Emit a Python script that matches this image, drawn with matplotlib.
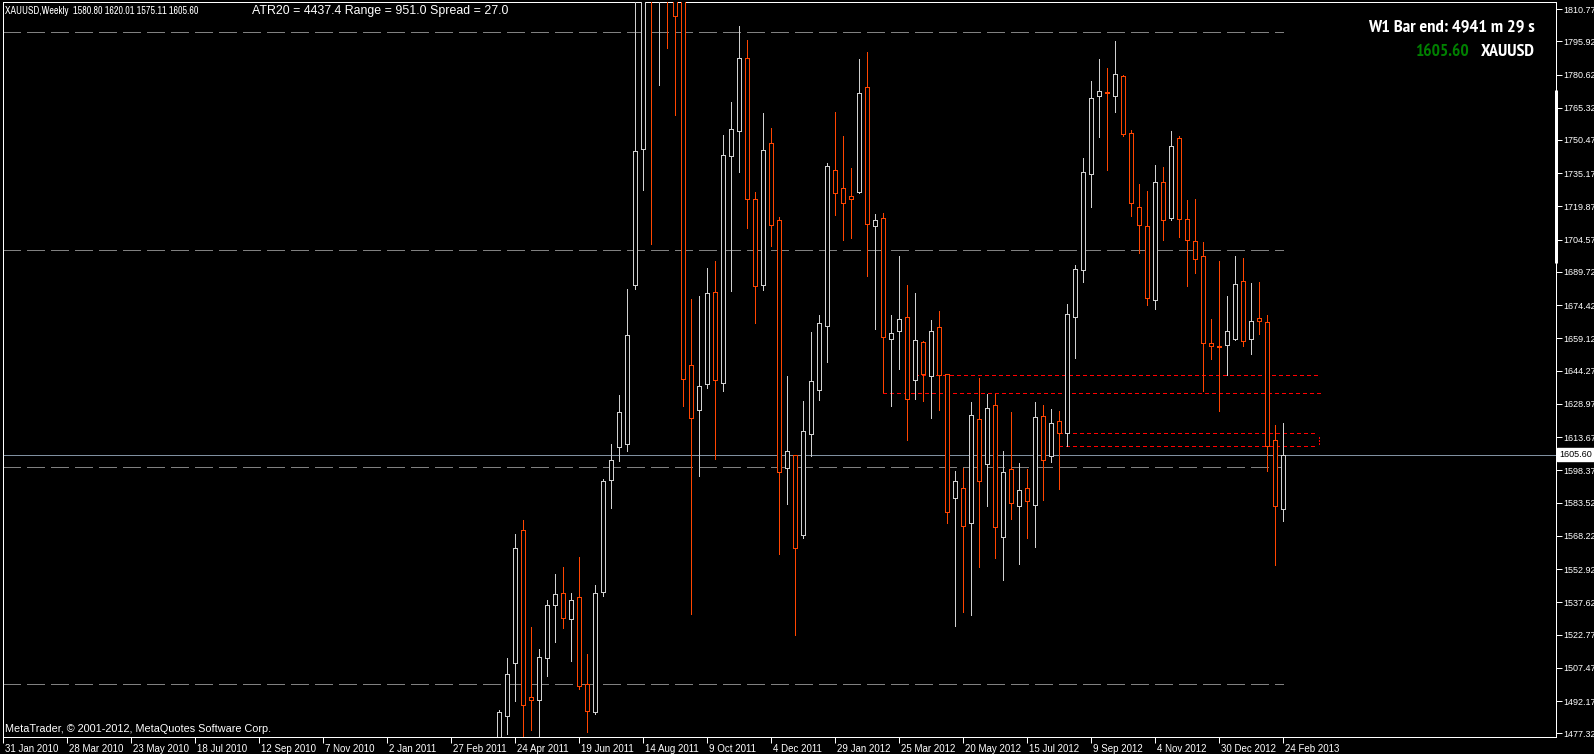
import numpy as np
import matplotlib
matplotlib.use("Agg")
import matplotlib.pyplot as plt
from matplotlib.patches import Rectangle
from matplotlib.collections import LineCollection, PatchCollection
from matplotlib import font_manager
from matplotlib.font_manager import FontProperties
import matplotlib.transforms as mtransforms

# ---------------- data ----------------
first_week = 62  # weeks after 31 Jan 2010 of the first drawn bar (10 Apr 2011)
opens = [1470.0, 1485.2, 1509.6, 1570.7, 1494.1, 1492.6, 1511.9, 1536.5, 1542.0, 1529.8,
         1540.2, 1500.0, 1487.0, 1542.4, 1593.7, 1608.9, 1610.6, 1683.7, 1746.1, 1852.0,
         1827.0, 1876.0, 1856.0, 1816.0, 1646.8, 1626.0, 1637.9, 1680.7, 1638.4, 1743.3,
         1754.4, 1788.1, 1723.5, 1683.7, 1748.9, 1713.5, 1599.3, 1605.4, 1568.8, 1615.3,
         1635.3, 1664.9, 1736.6, 1728.3, 1724.6, 1726.6, 1774.8, 1710.7, 1714.4, 1658.8,
         1662.5, 1669.2, 1640.1, 1657.3, 1641.8, 1664.2, 1642.5, 1585.5, 1590.4, 1574.0,
         1621.9, 1601.1, 1628.4, 1567.6, 1599.1, 1581.8, 1590.4, 1582.2, 1623.4, 1604.8,
         1621.0, 1615.6, 1669.2, 1690.5, 1735.0, 1770.5, 1772.4, 1770.5, 1780.0, 1753.5,
         1719.4, 1710.7, 1676.6, 1731.3, 1714.4, 1751.3, 1714.0, 1703.8, 1697.0, 1656.8,
         1655.5, 1656.0, 1658.8, 1685.7, 1658.8, 1668.3, 1666.8, 1612.4, 1580.80]
highs = [1488.0, 1511.9, 1569.1, 1575.4, 1526.3, 1515.9, 1538.9, 1550.7, 1553.7, 1542.0,
         1558.5, 1513.9, 1545.5, 1594.4, 1610.4, 1633.0, 1682.0, 1818.0, 1877.0, 1912.0,
         1882.0, 1923.0, 1865.0, 1820.0, 1677.2, 1678.7, 1691.7, 1694.8, 1752.6, 1768.1,
         1803.0, 1796.5, 1726.6, 1763.1, 1756.1, 1715.1, 1641.8, 1605.6, 1630.5, 1662.2,
         1670.1, 1739.8, 1763.5, 1752.2, 1737.6, 1787.6, 1791.1, 1716.4, 1716.8, 1670.1,
         1697.0, 1683.8, 1680.1, 1657.9, 1667.5, 1671.8, 1642.9, 1598.0, 1599.3, 1629.9,
         1641.0, 1633.7, 1633.7, 1607.2, 1625.2, 1601.7, 1598.9, 1629.8, 1628.5, 1626.6,
         1625.8, 1675.0, 1692.9, 1742.2, 1777.8, 1787.8, 1783.7, 1796.1, 1780.5, 1755.0,
         1730.3, 1727.0, 1739.0, 1738.1, 1754.6, 1752.2, 1722.9, 1723.3, 1703.5, 1668.1,
         1694.8, 1678.8, 1697.2, 1696.2, 1684.4, 1685.1, 1669.7, 1619.1, 1620.01]
lows = [1459.0, 1477.0, 1492.4, 1462.0, 1478.7, 1474.0, 1503.5, 1519.3, 1525.7, 1510.4,
        1497.8, 1477.8, 1486.1, 1540.6, 1580.9, 1602.6, 1607.1, 1682.0, 1727.4, 1702.6,
        1775.9, 1792.6, 1762.2, 1628.2, 1532.4, 1595.9, 1636.5, 1603.7, 1635.1, 1681.1,
        1735.9, 1710.1, 1666.4, 1681.6, 1701.8, 1559.8, 1583.0, 1522.4, 1567.1, 1605.0,
        1630.7, 1648.4, 1715.9, 1704.6, 1705.3, 1725.9, 1687.7, 1663.3, 1634.5, 1628.0,
        1644.9, 1612.3, 1631.4, 1630.5, 1622.5, 1626.2, 1573.9, 1526.5, 1533.3, 1531.9,
        1553.9, 1581.8, 1558.0, 1548.0, 1576.1, 1555.1, 1567.1, 1563.3, 1584.6, 1602.4,
        1589.7, 1609.7, 1649.9, 1685.3, 1719.4, 1752.0, 1736.6, 1763.3, 1752.2, 1715.7,
        1698.3, 1674.4, 1672.5, 1704.4, 1713.8, 1705.7, 1683.3, 1689.0, 1635.1, 1649.7,
        1625.5, 1642.3, 1658.3, 1655.7, 1651.8, 1661.2, 1598.0, 1554.9, 1575.11]
closes = [1486.9, 1504.6, 1562.6, 1490.2, 1492.6, 1512.6, 1536.3, 1541.3, 1530.5, 1538.9,
          1499.3, 1487.4, 1542.0, 1593.5, 1603.0, 1625.2, 1660.5, 1745.2, 1852.0, 1827.0,
          1876.0, 1856.0, 1807.4, 1640.5, 1622.3, 1637.1, 1679.8, 1639.9, 1743.5, 1755.5,
          1788.1, 1723.5, 1683.1, 1745.7, 1711.1, 1597.4, 1607.1, 1562.5, 1616.4, 1639.5,
          1666.2, 1738.7, 1725.9, 1721.4, 1723.1, 1772.0, 1712.0, 1713.5, 1659.7, 1661.4,
          1667.9, 1631.0, 1658.4, 1642.5, 1662.5, 1642.1, 1579.4, 1593.3, 1572.8, 1623.8,
          1593.3, 1627.0, 1572.1, 1597.4, 1583.5, 1589.1, 1584.4, 1623.1, 1603.0, 1620.1,
          1615.6, 1670.3, 1691.3, 1735.7, 1770.0, 1772.8, 1772.0, 1780.7, 1753.3, 1721.4,
          1711.1, 1677.5, 1731.3, 1713.5, 1747.6, 1714.0, 1704.2, 1695.5, 1656.8, 1655.5,
          1655.2, 1662.7, 1684.2, 1658.1, 1667.3, 1667.0, 1609.8, 1581.8, 1605.60]

date_labels = ["31 Jan 2010", "28 Mar 2010", "23 May 2010", "18 Jul 2010", "12 Sep 2010",
               "7 Nov 2010", "2 Jan 2011", "27 Feb 2011", "24 Apr 2011", "19 Jun 2011",
               "14 Aug 2011", "9 Oct 2011", "4 Dec 2011", "29 Jan 2012", "25 Mar 2012",
               "20 May 2012", "15 Jul 2012", "9 Sep 2012", "4 Nov 2012", "30 Dec 2012",
               "24 Feb 2013"]
date_label_weeks = [8 * i for i in range(len(date_labels))]

price_ticks = [1810.77, 1795.92, 1780.62, 1765.32, 1750.47, 1735.17, 1719.87, 1704.57,
               1689.72, 1674.42, 1659.12, 1644.27, 1628.97, 1613.67, 1598.37, 1583.52,
               1568.22, 1552.92, 1537.62, 1522.77, 1507.47, 1492.17, 1477.32]

round_levels = [1800, 1700, 1600, 1500]
bid_price = 1605.60
red_levels = [1642.1, 1634.2]
red_level_start_weeks = [114.0, 110.0]
zone_low, zone_high = 1609.5, 1615.6
zone_start_week, zone_end_week = 132.0, 164.2
red_level_end_week = 164.6
marker_bar = (1693.9, 1773.5)

header_left = "XAUUSD,Weekly  1580.80 1620.01 1575.11 1605.60"
header_mid = "ATR20 = 4437.4 Range = 951.0 Spread = 27.0"
timer_text = "W1 Bar end: 4941 m 29 s"
symbol_text = "XAUUSD"
copyright_text = "MetaTrader, \u00a9 2001-2012, MetaQuotes Software Corp."

# ---------------- style ----------------
W, H = 1594, 754
BULL = "#D0D0D0"
BEAR = "#FF4500"
PX = 0.72  # one pixel in points at dpi 100


def has_font(name):
    try:
        font_manager.findfont(FontProperties(family=name), fallback_to_default=False)
        return True
    except Exception:
        return False


sans = "Liberation Sans" if has_font("Liberation Sans") else "DejaVu Sans"


def find_condensed(bold=True):
    cands = []
    for f in font_manager.fontManager.ttflist:
        fn = f.fname.lower().replace(" ", "").replace("_", "").replace("-", "")
        nm = f.name.lower()
        if "italic" in fn or "oblique" in fn:
            continue
        isbold = "bold" in fn
        if bold != isbold:
            continue
        if not bold and ("light" in fn or "thin" in fn or "medium" in fn or "black" in fn):
            continue
        iscond = ("condensed" in fn or "narrow" in fn or "cond" in fn
                  or f.stretch in ("condensed", "semi-condensed", "extra-condensed"))
        if iscond:
            pri = 0 if "narrow" in fn else (1 if "roboto" in nm else 2)
            cands.append((pri, f.fname))
    if cands:
        cands.sort()
        return FontProperties(fname=cands[0][1])
    return None


bold_fp = find_condensed(True) or FontProperties(family=sans, weight="bold")
cond_fp = find_condensed(False) or FontProperties(family=sans)

fig = plt.figure(figsize=(W / 100, H / 100), dpi=100, facecolor="black")
ax = fig.add_axes([3 / W, 17 / H, 1553 / W, 735 / H], facecolor="black")
ax.set_xlim(0, 1553 / 8)
ax.set_ylim(1475.6, 1814.0)

for s in ax.spines.values():
    s.set_color("white")
    s.set_linewidth(PX)

# round-number dashed levels
last_w = first_week + len(opens) - 1
for lv in round_levels:
    ax.plot([0, last_w], [lv, lv], color="#808080", lw=PX, ls=(0, (18, 6)),
            antialiased=False, zorder=1)

# bid line
ax.axhline(bid_price, color="#8090A0", lw=PX, zorder=1, antialiased=False)

# red levels
red_ls = (0, (4, 3))
for lv, sw in zip(red_levels, red_level_start_weeks):
    ax.plot([sw, red_level_end_week], [lv, lv], color="#FF0000", lw=PX,
            ls=red_ls, antialiased=False, zorder=2)

# zone (dotted box with closed right side)
for lv in (zone_high, zone_low):
    ax.plot([zone_start_week, zone_end_week], [lv, lv], color="#FF0000",
            lw=PX, ls=red_ls, antialiased=False, zorder=2)
ax.plot([zone_end_week + 0.3, zone_end_week + 0.3], [zone_low + 0.8, zone_high - 0.8],
        color="#FF0000", lw=PX, ls=(0, (2, 2)), antialiased=False, zorder=2)

# candles
xs = first_week + np.arange(len(opens))
segs, seg_cols, rects, rect_cols = [], [], [], []
for x, o, h, l, c in zip(xs, opens, highs, lows, closes):
    col = BULL if c > o else BEAR
    top, bot = max(o, c), min(o, c)
    segs.append([(x, top), (x, h)])
    segs.append([(x, l), (x, bot)])
    seg_cols += [col, col]
    rects.append(Rectangle((x - 0.25, bot), 0.5, top - bot))
    rect_cols.append(col)
ax.add_collection(LineCollection(segs, colors=seg_cols, linewidths=PX, antialiased=False,
                                 zorder=3))
ax.add_collection(PatchCollection(rects, facecolor="black", edgecolor=rect_cols,
                                  linewidths=PX, antialiased=False, zorder=4))

# axes ticks
ax.yaxis.tick_right()
ax.set_yticks(price_ticks)
ax.set_yticklabels([f"{p:.2f}" for p in price_ticks])
ax.tick_params(axis="y", colors="white", labelcolor="white", length=4, width=PX,
               direction="out", pad=1.0, labelsize=6.5)
for t in ax.get_yticklabels():
    t.set_fontfamily(sans)

ax.set_xticks(date_label_weeks)
ax.set_xticklabels(date_labels)
ax.tick_params(axis="x", colors="white", labelcolor="white", length=4, width=PX,
               direction="out", pad=1.0, labelsize=7.0)
offset = mtransforms.ScaledTranslation(2 / 100, 0, fig.dpi_scale_trans)
for t in ax.get_xticklabels():
    t.set_horizontalalignment("left")
    t.set_fontfamily(sans)
    t.set_transform(t.get_transform() + offset)

# bid label box on price axis
ax.text(1 + 3 / 1553, bid_price, f"{bid_price:.2f}", transform=ax.get_yaxis_transform(),
        ha="left", va="center", fontsize=6.5, family=sans, color="black",
        bbox=dict(boxstyle="square,pad=0.2", facecolor="white", edgecolor="white"),
        zorder=10, clip_on=False)

# white marker bar at right edge
ax.plot([1, 1], list(marker_bar), color="white", lw=3 * PX,
        transform=ax.get_yaxis_transform(), clip_on=False, zorder=6,
        solid_capstyle="butt")

# texts
def ftext(x, y, s, **kw):
    return fig.text(x / W, 1 - y / H, s, **kw)


t_head = ftext(5, 11, header_left, fontproperties=cond_fp, fontsize=7.0, color="white",
               va="center", ha="left")
ftext(252, 11, header_mid, fontsize=8.9, family=sans, color="white", va="center", ha="left")
ftext(5, 729, copyright_text, fontsize=7.8, family=sans, color="white",
      va="center", ha="left")

t_timer = ftext(1535, 27, timer_text, fontproperties=bold_fp, fontsize=12, color="white",
                va="center", ha="right")
t_sym = ftext(1535, 52, symbol_text, fontproperties=bold_fp, fontsize=12, color="white",
              va="center", ha="right")
t_bid = ftext(1469, 52, f"{bid_price:.2f}", fontproperties=bold_fp, fontsize=12,
              color="#008000", va="center", ha="right")

# fit texts to the widths seen in the chart
fig.canvas.draw()
r = fig.canvas.get_renderer()
targets = [(t_timer, 166.0, 12.0), (t_sym, 54.0, 12.0), (t_bid, 53.0, 12.0),
           (t_head, 194.0, 7.0)]
for t, tw, base in targets:
    bw = t.get_window_extent(r).width
    t.set_fontsize(min(base * tw / bw, base * 1.25))

fig.savefig("out.png", dpi=100, facecolor="black")
